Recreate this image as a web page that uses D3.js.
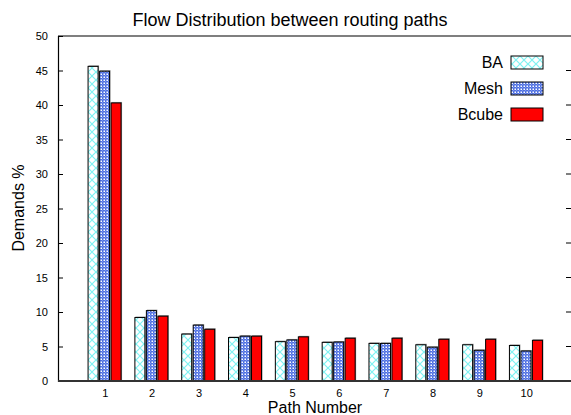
<!DOCTYPE html>
<html>
<head>
<meta charset="utf-8">
<script src="https://cdn.jsdelivr.net/npm/d3@7"></script>
<style>
  body { margin: 0; background: #fff; }
  svg { display: block; font-family: 'Liberation Sans', Arial, sans-serif; }
</style>
</head>
<body>
<div id="container"></div>
<script>
'use strict';

const w = 571;
const h = 415;

// Data.
const paths = [1, 2, 3, 4, 5, 6, 7, 8, 9, 10];
const series = ['BA', 'Mesh', 'Bcube'];
const ba = [45.6, 9.2, 6.8, 6.3, 5.7, 5.6, 5.45, 5.25, 5.25, 5.15];
const mesh = [44.9, 10.2, 8.1, 6.5, 5.95, 5.65, 5.45, 4.9, 4.45, 4.35];
const bcube = [40.3, 9.4, 7.5, 6.5, 6.4, 6.2, 6.2, 6.05, 6.05, 5.9];
const yTicks = [0, 5, 10, 15, 20, 25, 30, 35, 40, 45, 50];

const values = [ba, mesh, bcube];
const fills = ['url(#hatch-ba)', 'url(#hatch-mesh)', '#ff0000'];

const svg = d3.select('#container')
    .append('svg')
    .attr('width', w)
    .attr('height', h);

// Fill patterns.
const defs = svg.append('defs');
const pBa = defs.append('pattern')
    .attr('id', 'hatch-ba')
    .attr('patternUnits', 'userSpaceOnUse')
    .attr('width', 8)
    .attr('height', 8);
pBa.append('rect').attr('width', 8).attr('height', 8).attr('fill', '#fff');
pBa.append('path')
    .attr('d', 'M0,0L8,8M8,0L0,8')
    .attr('stroke', '#7ef2f2')
    .attr('stroke-width', 1.2);

const pMesh = defs.append('pattern')
    .attr('id', 'hatch-mesh')
    .attr('patternUnits', 'userSpaceOnUse')
    .attr('width', 3)
    .attr('height', 3);
pMesh.append('rect').attr('width', 3).attr('height', 3).attr('fill', '#4f70e2');
pMesh.append('rect').attr('x', 1.5).attr('y', 1.5).attr('width', 1.5).attr('height', 1.5).attr('fill', '#fff');
pMesh.append('rect').attr('x', 0).attr('y', 0).attr('width', 0.6).attr('height', 0.6).attr('fill', '#c8d4fa');

// Scales.
const x = d3.scaleLinear().domain([0, 11]).range([58, 573]);
const y = d3.scaleLinear().domain([0, 50]).range([381, 36]);
const barW = 11.5;

// Title.
svg.append('text')
    .attr('x', 290)
    .attr('y', 26)
    .attr('text-anchor', 'middle')
    .attr('font-size', 18)
    .text('Flow Distribution between routing paths');

// Frame: top border and mirrored ticks.
svg.append('line')
    .attr('x1', 58).attr('x2', w)
    .attr('y1', y(50)).attr('y2', y(50))
    .attr('stroke', '#000').attr('stroke-width', 1.2);

svg.selectAll('.rtick')
    .data(yTicks.slice(1, -1))
    .enter()
    .append('line')
    .attr('x1', 566).attr('x2', w)
    .attr('y1', d => y(d)).attr('y2', d => y(d))
    .attr('stroke', '#000');

// Bars.
series.forEach((s, j) => {
    const g = svg.append('g').attr('class', 'series-' + s);
    g.selectAll('rect.shadow')
        .data(values[j])
        .enter()
        .append('rect')
        .attr('class', 'shadow')
        .attr('x', (d, i) => x(paths[i]) - 1.5 * barW + j * barW + 1)
        .attr('y', d => y(d) - 1)
        .attr('width', barW - 1)
        .attr('height', d => y(0) - y(d))
        .attr('fill', '#999');
    g.selectAll('rect.bar')
        .data(values[j])
        .enter()
        .append('rect')
        .attr('class', 'bar')
        .attr('x', (d, i) => x(paths[i]) - 1.5 * barW + j * barW + 0.5)
        .attr('y', d => y(d))
        .attr('width', barW - 1.5)
        .attr('height', d => y(0) - y(d))
        .attr('fill', fills[j])
        .attr('stroke', '#000')
        .attr('stroke-width', 1);
});

// Axes.
const yAxis = d3.axisLeft(y)
    .tickValues(yTicks)
    .tickSize(-5)
    .tickPadding(10);
const gy = svg.append('g')
    .attr('transform', 'translate(58,0)')
    .call(yAxis);
gy.select('.domain').attr('stroke-width', 1.2);
gy.selectAll('text').attr('font-size', 11).attr('font-family', 'Liberation Sans, Arial, sans-serif');

svg.append('line')
    .attr('x1', 58).attr('x2', w)
    .attr('y1', y(0)).attr('y2', y(0))
    .attr('stroke', '#333').attr('stroke-width', 2);

const xAxis = d3.axisBottom(x)
    .tickValues(paths)
    .tickSize(0)
    .tickPadding(8);
const gx = svg.append('g')
    .attr('transform', 'translate(0,' + y(0) + ')')
    .call(xAxis);
gx.select('.domain').remove();
gx.selectAll('text').attr('font-size', 11).attr('font-family', 'Liberation Sans, Arial, sans-serif');

// Axis labels.
svg.append('text')
    .attr('x', 315)
    .attr('y', 413)
    .attr('text-anchor', 'middle')
    .attr('font-size', 16)
    .text('Path Number');

svg.append('text')
    .attr('transform', 'translate(24,208) rotate(-90)')
    .attr('text-anchor', 'middle')
    .attr('font-size', 16)
    .text('Demands %');

// Legend.
const legend = svg.append('g').attr('id', 'legend');
series.forEach((s, j) => {
    const ly = 56 + j * 26;
    legend.append('rect')
        .attr('x', 511)
        .attr('y', ly)
        .attr('width', 32)
        .attr('height', 13)
        .attr('fill', fills[j])
        .attr('stroke', '#000');
    legend.append('text')
        .attr('x', 503)
        .attr('y', ly + 12)
        .attr('text-anchor', 'end')
        .attr('font-size', 16)
        .text(s);
});
</script>
</body>
</html>
